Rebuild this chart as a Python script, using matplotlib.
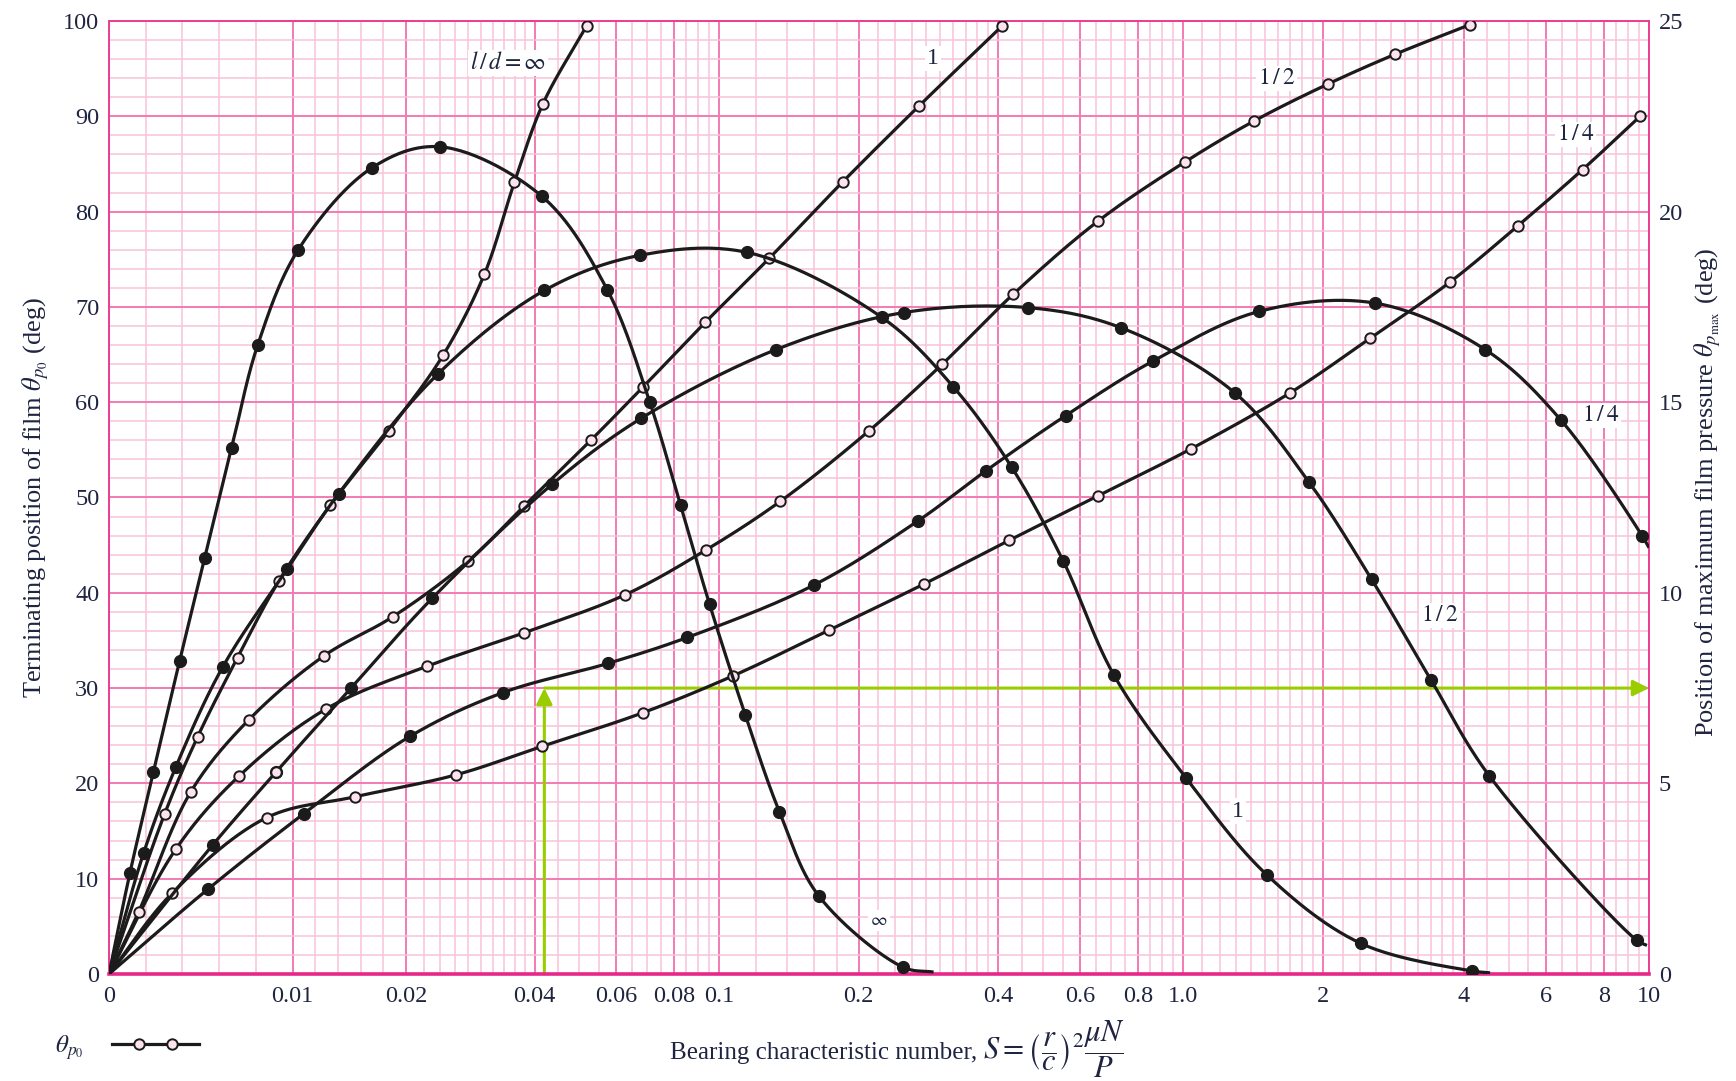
import numpy as np
import matplotlib
matplotlib.use("Agg")
import matplotlib.pyplot as plt
from matplotlib.lines import Line2D
from matplotlib.legend_handler import HandlerLine2D, HandlerTuple
from matplotlib.offsetbox import TextArea, HPacker, AnchoredOffsetbox

plt.rcParams['font.family'] = ['Liberation Serif', 'DejaVu Serif']
plt.rcParams['mathtext.fontset'] = 'stix'

# terminating position of film theta_p0 (deg, left axis) -- open markers
S_O_INF = [0, 0.00303, 0.00483, 0.0070, 0.00924, 0.01333, 0.01848, 0.0244, 0.0305, 0.0359, 0.0417, 0.0518]
T_O_INF = [0, 16.8, 24.9, 33.2, 41.2, 49.2, 57.0, 64.9, 73.4, 83.1, 91.3, 99.5]

S_O_1 = [0, 0.00161, 0.00445, 0.00763, 0.01279, 0.01885, 0.0279, 0.0378, 0.0529, 0.0686, 0.0935,
         0.1283, 0.1846, 0.27, 0.408]
T_O_1 = [0, 6.5, 19.1, 26.7, 33.4, 37.5, 43.3, 49.1, 56.0, 61.6, 68.4, 75.1, 83.1, 91.1, 99.5]

S_O_HALF = [0, 0.00364, 0.0071, 0.01294, 0.0224, 0.0378, 0.0628, 0.0938, 0.1356, 0.2106, 0.303,
            0.43, 0.656, 1.009, 1.42, 2.05, 2.85, 4.12]
T_O_HALF = [0, 13.1, 20.8, 27.8, 32.3, 35.8, 39.8, 44.5, 49.6, 57.0, 64.0, 71.3, 79.0, 85.2, 89.5,
            93.4, 96.5, 99.6]

S_O_QUAR = [0, 0.00345, 0.00858, 0.01552, 0.0262, 0.0416, 0.0684, 0.1074, 0.173, 0.276, 0.422,
            0.657, 1.04, 1.70, 2.52, 3.74, 5.23, 7.2, 9.57]
T_O_QUAR = [0, 8.5, 16.4, 18.6, 20.9, 23.9, 27.4, 31.3, 36.1, 40.9, 45.5, 50.2, 55.1, 61.0, 66.7,
            72.6, 78.5, 84.4, 90.0]

# position of maximum film pressure theta_pmax (deg, right axis) -- filled markers
S_P_INF = [0, 0.00114, 0.00242, 0.00384, 0.00521, 0.00668, 0.0081, 0.0105, 0.0170, 0.0240, 0.0415,
           0.0574, 0.0709, 0.0826, 0.0954, 0.1139, 0.135, 0.164, 0.249, 0.29]
T_P_INF = [0, 2.65, 5.3, 8.2, 10.9, 13.8, 16.5, 19.0, 21.15, 21.7, 20.4, 17.95, 15.0, 12.3, 9.7,
           6.8, 4.25, 2.05, 0.18, 0.05]

S_P_1 = [0, 0.00189, 0.00364, 0.00619, 0.00972, 0.01406, 0.0237, 0.042, 0.0674, 0.1149, 0.224,
         0.32, 0.427, 0.552, 0.709, 1.017, 1.513, 2.41, 4.17, 4.56]
T_P_1 = [0, 3.18, 5.43, 8.05, 10.63, 12.6, 15.73, 17.93, 18.85, 18.93, 17.23, 15.4, 13.3, 10.83,
         7.85, 5.13, 2.6, 0.8, 0.08, 0.03]

S_P_HALF = [0, 0.00564, 0.0091, 0.01515, 0.023, 0.0437, 0.068, 0.1327, 0.25, 0.464, 0.736, 1.29,
            1.864, 2.54, 3.41, 4.54, 9.42, 9.9]
T_P_HALF = [0, 3.38, 5.3, 7.5, 9.85, 12.85, 14.58, 16.38, 17.35, 17.48, 16.95, 15.25, 12.9, 10.35,
            7.7, 5.2, 0.88, 0.75]

S_P_QUAR = [0, 0.0054, 0.01097, 0.0204, 0.0337, 0.0577, 0.0855, 0.16, 0.268, 0.376, 0.559, 0.862,
            1.456, 2.58, 4.45, 6.47, 9.66, 10.0]
T_P_QUAR = [0, 2.23, 4.2, 6.23, 7.38, 8.15, 8.83, 10.2, 11.88, 13.2, 14.65, 16.08, 17.38, 17.6,
            16.38, 14.53, 11.5, 11.18]

X_TICKS = [0, 0.01, 0.02, 0.04, 0.06, 0.08, 0.1, 0.2, 0.4, 0.6, 0.8, 1, 2, 4, 6, 8, 10]
X_TICK_LABELS = ['0', '0.01', '0.02', '0.04', '0.06', '0.08', '0.1', '0.2', '0.4', '0.6', '0.8',
                 '1.0', '2', '4', '6', '8', '10']

# worked example: S = 0.042 read across to the right-hand scale
S_EXAMPLE = 0.042
T_EXAMPLE = 30

CURVE_LABELS = [(r'$l\,/\,d = \infty$', 0.0347, 95.6, 17),
                ('1', 0.289, 96.1, 17),
                (r'$1\,/\,2$', 1.585, 94.0, 17),
                (r'$1\,/\,4$', 6.96, 88.1, 17),
                (r'$1\,/\,4$', 7.86, 58.6, 17),
                (r'$1\,/\,2$', 3.55, 37.6, 17),
                ('1', 1.31, 17.1, 17),
                (r'$\infty$', 0.221, 5.6, 13)]

INK = '#1b1b1b'
TEXT = '#1f2440'
PINK_MAJOR = '#f27bb3'
PINK_MINOR = '#f9c3db'
PINK_FRAME = '#ec3d93'
GREEN = '#9acd00'
OPEN_FACE = '#fbe4ee'

# S axis: linear up to 0.02, logarithmic above, calibrated at the labelled ticks
LOG_START = 0.02
S_KNOTS = np.array([0, 0.01, 0.02, 0.04, 0.1, 1, 10])
U_KNOTS = np.array([0, 0.1192, 0.1929, 0.2763, 0.3961, 0.6974, 1.0])


def _g(s):
    s = np.asarray(s, dtype=float)
    return np.where(s >= LOG_START, np.log10(np.maximum(s, LOG_START)),
                    np.log10(LOG_START) + (s - LOG_START) * 30.0)


def _g_inv(t):
    t = np.asarray(t, dtype=float)
    t0 = np.log10(LOG_START)
    return np.where(t >= t0, 10 ** np.minimum(t, 6), LOG_START + (t - t0) / 30.0)


G_KNOTS = _g(S_KNOTS)


def _lin_ext(x, xp, fp):
    x = np.asarray(x, dtype=float)
    y = np.interp(x, xp, fp)
    y = np.where(x < xp[0], fp[0] + (x - xp[0]) * (fp[1] - fp[0]) / (xp[1] - xp[0]), y)
    y = np.where(x > xp[-1], fp[-1] + (x - xp[-1]) * (fp[-1] - fp[-2]) / (xp[-1] - xp[-2]), y)
    return y


def s_forward(s):
    return _lin_ext(_g(s), G_KNOTS, U_KNOTS)


def s_inverse(u):
    return _g_inv(_lin_ext(u, U_KNOTS, G_KNOTS))


def catmull_rom(px, py, n=30):
    """Centripetal Catmull-Rom through the points (in screen-like units)."""
    P = np.column_stack([px, py])
    P = np.vstack([2 * P[0] - P[1], P, 2 * P[-1] - P[-2]])
    out = [P[1]]
    for i in range(1, len(P) - 2):
        p0, p1, p2, p3 = P[i - 1], P[i], P[i + 1], P[i + 2]
        t0 = 0.0
        t1 = t0 + max(np.linalg.norm(p1 - p0), 1e-6) ** 0.5
        t2 = t1 + max(np.linalg.norm(p2 - p1), 1e-6) ** 0.5
        t3 = t2 + max(np.linalg.norm(p3 - p2), 1e-6) ** 0.5
        t = np.linspace(t1, t2, n)[1:, None]
        a1 = (t1 - t) / (t1 - t0) * p0 + (t - t0) / (t1 - t0) * p1
        a2 = (t2 - t) / (t2 - t1) * p1 + (t - t1) / (t2 - t1) * p2
        a3 = (t3 - t) / (t3 - t2) * p2 + (t - t2) / (t3 - t2) * p3
        b1 = (t2 - t) / (t2 - t0) * a1 + (t - t0) / (t2 - t0) * a2
        b2 = (t3 - t) / (t3 - t1) * a2 + (t - t1) / (t3 - t1) * a3
        out.extend((t2 - t) / (t2 - t1) * b1 + (t - t1) / (t2 - t1) * b2)
    return np.array(out)


AX_W, AX_H = 1540.0, 953.0


def draw_curve(axis, s, th, ymax, filled, mark_last=True):
    s = np.asarray(s, float)
    th = np.asarray(th, float)
    curve = catmull_rom(s_forward(s) * AX_W, th / ymax * AX_H)
    axis.plot(s_inverse(curve[:, 0] / AX_W), curve[:, 1] / AX_H * ymax,
              color=INK, lw=2.3, solid_capstyle='butt', zorder=3)
    stop = len(s) if mark_last else len(s) - 1
    if filled:
        axis.plot(s[1:stop], th[1:stop], 'o', ms=8.5, color=INK, zorder=4)
    else:
        axis.plot(s[1:stop], th[1:stop], 'o', ms=7.5, mfc=OPEN_FACE, mec=INK, mew=1.4, zorder=4)


fig = plt.figure(figsize=(17.36, 10.81), dpi=100)
ax = fig.add_axes([0.0628, 0.0990, 0.8871, 0.8816])
ax.set_xscale('function', functions=(s_forward, s_inverse))
ax.set_xlim(0, 10)
ax.set_ylim(0, 100)

minor_x = np.concatenate([np.arange(0.002, 0.04, 0.002), np.arange(0.045, 0.1, 0.005),
                          np.arange(0.12, 0.4, 0.02), np.arange(0.45, 1.0, 0.05),
                          np.arange(1.1, 2.0, 0.1), np.arange(2.2, 4.0, 0.2),
                          np.arange(4.5, 10.0, 0.5)])
minor_x = [v for v in minor_x if not np.any(np.isclose(v, X_TICKS, rtol=1e-6, atol=1e-9))]

ax.set_xticks(X_TICKS)
ax.set_xticklabels(X_TICK_LABELS)
ax.set_xticks(minor_x, minor=True)
ax.set_yticks(np.arange(0, 101, 10))
ax.set_yticks(np.arange(0, 101, 2), minor=True)
ax.grid(which='minor', color=PINK_MINOR, lw=1.1)
ax.grid(which='major', color=PINK_MAJOR, lw=1.4)
ax.set_axisbelow(True)
ax.tick_params(which='both', length=0)
ax.tick_params(axis='x', pad=9, labelsize=17.5, labelcolor=TEXT)
ax.tick_params(axis='y', pad=7, labelsize=17.5, labelcolor=TEXT)
for side in ('left', 'top', 'right'):
    ax.spines[side].set_color(PINK_FRAME)
    ax.spines[side].set_linewidth(1.4)
ax.spines['bottom'].set_color('#e8278a')
ax.spines['bottom'].set_linewidth(2.6)

ax.set_ylabel(r'Terminating position of film $\theta_{p_0}$ (deg)', fontsize=19, color=TEXT)
ax.yaxis.set_label_coords(-0.038, 0.5)

# read-off example in green
ax.annotate('', xy=(S_EXAMPLE, T_EXAMPLE), xytext=(S_EXAMPLE, 0),
            arrowprops=dict(arrowstyle='-|>', color=GREEN, lw=2.2, mutation_scale=24,
                            shrinkA=0, shrinkB=0), zorder=2)
ax.annotate('', xy=(10, T_EXAMPLE), xytext=(S_EXAMPLE, T_EXAMPLE),
            arrowprops=dict(arrowstyle='-|>', color=GREEN, lw=2.2, mutation_scale=24,
                            shrinkA=0, shrinkB=0), zorder=2)

for s, th in [(S_O_INF, T_O_INF), (S_O_1, T_O_1), (S_O_HALF, T_O_HALF), (S_O_QUAR, T_O_QUAR)]:
    draw_curve(ax, s, th, 100, filled=False)

ax2 = ax.twinx()
ax2.set_ylim(0, 25)
ax2.set_yticks(np.arange(0, 26, 5))
ax2.tick_params(which='both', length=0)
ax2.tick_params(axis='y', pad=7, labelsize=17.5, labelcolor=TEXT)
for side in ax2.spines:
    ax2.spines[side].set_visible(False)
ax2.set_ylabel(r'Position of maximum film pressure $\theta_{p_{\rm max}}$ (deg)', fontsize=19,
               color=TEXT)
ax2.yaxis.set_label_coords(1.0286, 0.505)

for s, th in [(S_P_INF, T_P_INF), (S_P_1, T_P_1), (S_P_HALF, T_P_HALF), (S_P_QUAR, T_P_QUAR)]:
    draw_curve(ax2, s, th, 25, filled=True, mark_last=False)
# one point on the l/d = 1/2 pmax curve is printed with an open circle
ax2.plot(S_P_HALF[2], T_P_HALF[2], 'o', ms=7.5, mfc=OPEN_FACE, mec=INK, mew=1.4, zorder=5)

for txt, s, th, fs in CURVE_LABELS:
    ax2.text(s, th, txt, transform=ax.transData, ha='center', va='center', fontsize=fs,
             color=TEXT, zorder=6,
             bbox=dict(facecolor='white', edgecolor='none', pad=1.5))

# x-axis title: plain words followed by the larger display-style formula
xlabel = HPacker(children=[
    TextArea('Bearing characteristic number, ', textprops=dict(fontsize=18, color=TEXT)),
    TextArea(r'$S = \left(\dfrac{r}{c}\right)^{2}\dfrac{\mu N}{P}$',
             textprops=dict(fontsize=22, color=TEXT))],
    align='baseline', pad=0, sep=0)
fig.add_artist(AnchoredOffsetbox(loc='center', child=xlabel, frameon=False, pad=0,
                                 bbox_to_anchor=(0.517, 1 - 1049 / 1081),
                                 bbox_transform=fig.transFigure))

# legend glyph: full-length line with two open circles set inside it
leg_line = Line2D([], [], color=INK, lw=2.3)
leg_marks = Line2D([], [], ls='none', marker='o', ms=7.5, mfc=OPEN_FACE, mec=INK, mew=1.4)
fig.legend(handles=[(leg_line, leg_marks)], labels=[r'$\theta_{p_0}$'], loc='center left',
           bbox_to_anchor=(0.019, 1 - 1048 / 1081), frameon=False, markerfirst=False,
           handlelength=3.5, handletextpad=1.1, fontsize=18, labelcolor=TEXT,
           handler_map={tuple: HandlerTuple(ndivide=1),
                        leg_line: HandlerLine2D(numpoints=1),
                        leg_marks: HandlerLine2D(numpoints=2, marker_pad=1.1)})

fig.savefig('out.png', dpi=100)
